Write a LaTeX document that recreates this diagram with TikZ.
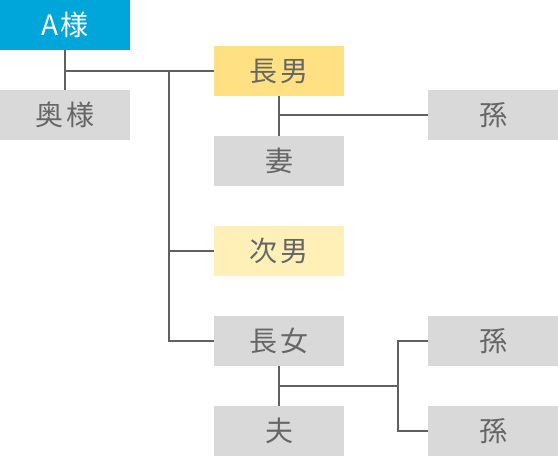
\documentclass[tikz,border=0pt]{standalone}
\usepackage{fontspec}
\newfontfamily\jp{Noto Sans CJK JP}
\definecolor{cyanbox}{HTML}{00A6DA}
\definecolor{yelbox}{HTML}{FFE083}
\definecolor{lyelbox}{HTML}{FFF0B8}
\definecolor{graybox}{HTML}{D9D9D9}
\definecolor{txtgray}{HTML}{666666}
\definecolor{linegray}{HTML}{606060}
\tikzset{
  box/.style={rectangle, anchor=north west, minimum width=130pt, minimum height=50pt, inner sep=0pt, fill=graybox, text=txtgray, font=\jp\fontsize{28}{28}\selectfont},
  link/.style={draw=linegray, line width=2pt}
}
\newcommand{\jsp}{\kern3pt\relax}
\begin{document}
\begin{tikzpicture}[x=1pt,y=-1pt]
\useasboundingbox (0,0) rectangle (558,456);
\node[box, fill=cyanbox, text=white] (a) at (0,0) {A\kern2pt\relax 様};
\node[box] (wife) at (0,90) {奥\jsp{}様};
\node[box, fill=yelbox] (son1) at (214,46) {長\jsp{}男};
\node[box] (son1w) at (214,136) {妻};
\node[box, fill=lyelbox] (son2) at (214,226) {次\jsp{}男};
\node[box] (dau) at (214,316) {長\jsp{}女};
\node[box] (dauh) at (214,406) {夫};
\node[box] (gc1) at (428,90) {孫};
\node[box] (gc2) at (428,316) {孫};
\node[box] (gc3) at (428,406) {孫};
\coordinate (j1) at (169,71);
\coordinate (j2) at (398,386);
\draw[link] (a.south) -- (wife.north);
\draw[link] (a.south |- son1.west) -- (son1.west);
\draw[link] (j1) |- (son2.west);
\draw[link] (j1) |- (dau.west);
\draw[link] (son1.south) -- (son1w.north);
\draw[link] (son1.south |- gc1.west) -- (gc1.west);
\draw[link] (dau.south) -- (dauh.north);
\draw[link] (dau.south |- j2) -- (j2);
\draw[link] (j2) |- (gc2.west);
\draw[link] (j2) |- (gc3.west);
\end{tikzpicture}
\end{document}
